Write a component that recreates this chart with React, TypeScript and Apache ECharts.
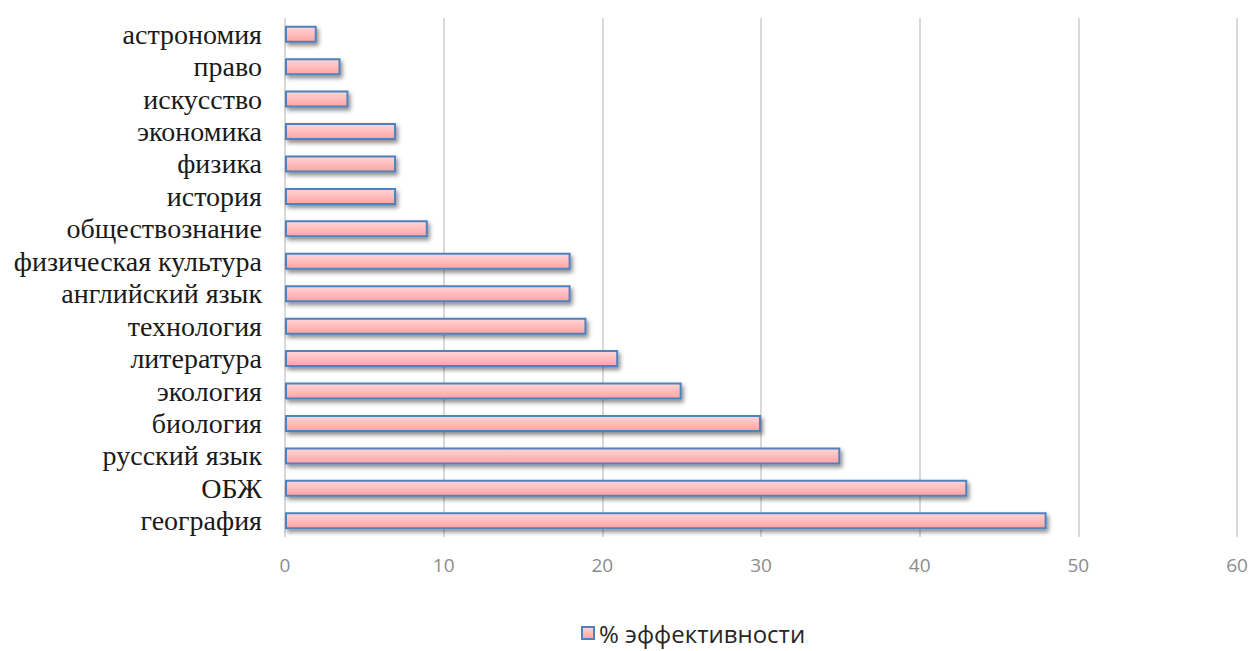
import React, { useEffect, useRef } from "react";
import * as echarts from "echarts";

const categories = [
  "география",
  "ОБЖ",
  "русский язык",
  "биология",
  "экология",
  "литература",
  "технология",
  "английский язык",
  "физическая культура",
  "обществознание",
  "история",
  "физика",
  "экономика",
  "искусство",
  "право",
  "астрономия",
];
const values = [48, 43, 35, 30, 25, 21, 19, 18, 18, 9, 7, 7, 7, 4, 3.5, 2];
const seriesName = "% эффективности";
const xTicks = [0, 10, 20, 30, 40, 50, 60];

export default function App() {
  const ref = useRef<HTMLDivElement>(null);
  useEffect(() => {
    const chart = echarts.init(ref.current!, null, { renderer: "svg" });
    chart.setOption({
      animation: false,
      backgroundColor: "#ffffff",
      grid: { left: 285, right: 17, top: 18, bottom: 114 },
      legend: {
        bottom: 1,
        left: 576,
        itemWidth: 12,
        itemHeight: 12,
        itemGap: 3,
        icon: "rect",
        textStyle: { fontFamily: "Open Sans", fontSize: 24, color: "#262626" },
        data: [seriesName],
      },
      xAxis: {
        type: "value",
        min: 0,
        max: xTicks[xTicks.length - 1],
        interval: 10,
        axisLine: { show: false },
        axisTick: { show: false },
        splitLine: { lineStyle: { color: "#d9d9d9", width: 2 } },
        axisLabel: {
          margin: 18,
          fontFamily: "Open Sans",
          fontSize: 19,
          color: "#8c8c8c",
        },
      },
      yAxis: {
        type: "category",
        data: categories,
        axisLine: { show: false },
        axisTick: { show: false },
        axisLabel: {
          interval: 0,
          margin: 23,
          padding: [0, 0, 3, 0],
          fontFamily: "Liberation Serif",
          fontSize: 28,
          color: "#1a1a1a",
        },
      },
      series: [
        {
          name: seriesName,
          type: "bar",
          data: values,
          barWidth: 17,
          itemStyle: {
            color: new echarts.graphic.LinearGradient(0, 0, 0, 1, [
              { offset: 0, color: "#ffd6d6" },
              { offset: 1, color: "#ffa3a3" },
            ]),
            borderColor: "#4f81bd",
            borderWidth: 2,
            shadowColor: "rgba(0,0,0,0.45)",
            shadowBlur: 4,
            shadowOffsetX: 2,
            shadowOffsetY: 3,
          },
        },
      ],
    });
    return () => chart.dispose();
  }, []);
  return (
    <div
      ref={ref}
      style={{ position: "absolute", left: 0, top: 0, width: 1254, height: 651 }}
    />
  );
}
